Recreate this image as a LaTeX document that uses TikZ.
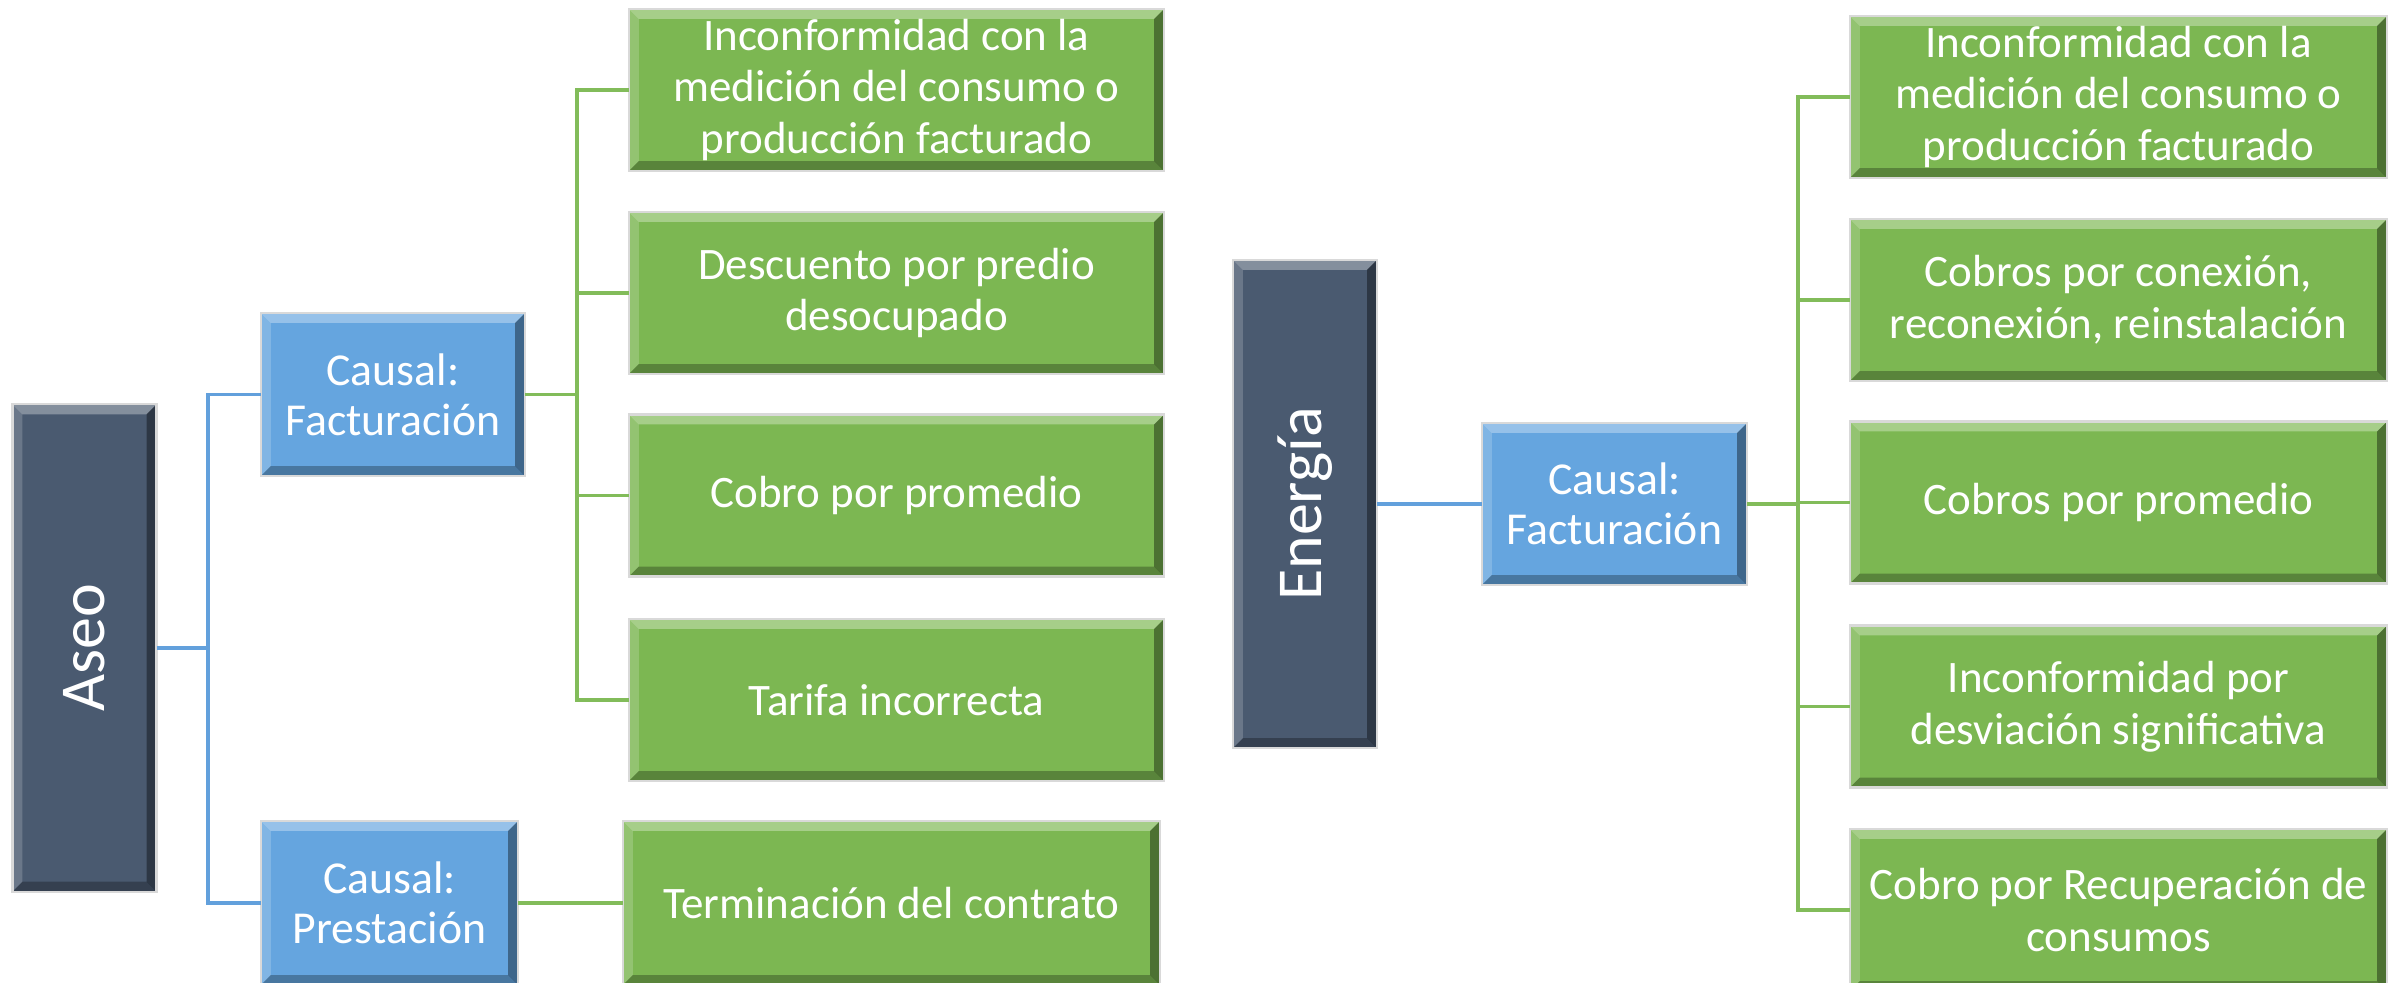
\documentclass[tikz,border=0pt]{standalone}
\usepackage{fontspec}
\setmainfont{Carlito}
\usepackage{graphicx}
\usetikzlibrary{calc}
\definecolor{slate}{HTML}{4A5A70}
\definecolor{cblue}{HTML}{65A5DF}
\definecolor{cgreen}{HTML}{7CB752}
\definecolor{lblue}{HTML}{62A0DC}
\definecolor{lgreen}{HTML}{82BC5A}
\newcommand{\bevelfill}{%
  \path (path picture bounding box.north west) coordinate (pNW)
        (path picture bounding box.north east) coordinate (pNE)
        (path picture bounding box.south west) coordinate (pSW)
        (path picture bounding box.south east) coordinate (pSE);
  \fill[white,opacity=.32] (pNW) -- (pNE) -- ($(pNE)+(-10,10)$) -- ($(pNW)+(10,10)$) -- cycle;
  \fill[white,opacity=.18] (pNW) -- ($(pNW)+(10,10)$) -- ($(pSW)+(10,-10)$) -- (pSW) -- cycle;
  \fill[black,opacity=.38] (pNE) -- (pSE) -- ($(pSE)+(-10,-10)$) -- ($(pNE)+(-10,10)$) -- cycle;
  \fill[black,opacity=.28] (pSW) -- (pSE) -- ($(pSE)+(-10,-10)$) -- ($(pSW)+(10,-10)$) -- cycle;
}
\tikzset{
  box/.style={rectangle, inner sep=0pt, outer sep=0pt, draw=black!15, line width=0.6pt,
    text=white, align=center, path picture={\bevelfill}},
  topbox/.style={box, fill=slate, minimum width=1.44cm, minimum height=4.87cm,
    font=\fontsize{18.2pt}{21pt}\selectfont},
  causebox/.style={box, fill=cblue, minimum height=1.63cm,
    font=\fontsize{13pt}{14.3pt}\selectfont},
  leafbox/.style={box, fill=cgreen, minimum height=1.62cm,
    font=\fontsize{12.8pt}{14.7pt}\selectfont},
  bline/.style={draw=lblue, line width=0.9pt},
  gline/.style={draw=lgreen, line width=0.9pt},
}
\begin{document}
\begin{tikzpicture}[x=0.01cm, y=-0.01cm]
\useasboundingbox[fill=white] (0,0) rectangle (2400,983);

% ---- Aseo ----
\node[topbox] (aseo) at (84.5,648) {\rotatebox{90}{Aseo}};
\node[causebox, minimum width=2.64cm] (afact) at (393,394.5) {Causal:\\Facturación};
\node[causebox, minimum width=2.57cm, minimum height=1.64cm] (aprest) at (389.5,903) {Causal:\\Prestación};

\node[leafbox, minimum width=5.35cm] (l1) at (896.5,90) {Inconformidad con la\\medición del consumo o\\producción facturado};
\node[leafbox, minimum width=5.35cm] (l2) at (896.5,293) {Descuento por predio\\desocupado};
\node[leafbox, minimum width=5.35cm] (l3) at (896.5,495.5) {Cobro por promedio};
\node[leafbox, minimum width=5.35cm] (l4) at (896.5,700) {Tarifa incorrecta};
\node[leafbox, minimum width=5.37cm, minimum height=1.64cm] (aterm) at (891.5,903) {Terminación del contrato};

\coordinate (ba) at (208,648);
\coordinate (ga) at (577,394.5);
\draw[bline] (aseo.east) -- (ba);
\draw[bline] (ba) |- (afact.west);
\draw[bline] (ba) |- (aprest.west);
\draw[gline] (afact.east) -- (ga);
\draw[gline] (ga) |- (l1.west);
\draw[gline] (ga) |- (l2.west);
\draw[gline] (ga) |- (l3.west);
\draw[gline] (ga) |- (l4.west);
\draw[gline] (aprest.east) -- (aterm.west);

% ---- Energia ----
\node[topbox, minimum height=4.88cm] (ener) at (1305,504) {\rotatebox{90}{Energía}};
\node[causebox, minimum width=2.65cm, minimum height=1.62cm] (efact) at (1614.5,504) {Causal:\\Facturación};

\node[leafbox, minimum width=5.37cm] (r1) at (2118.5,97) {Inconformidad con la\\medición del consumo o\\producción facturado};
\node[leafbox, minimum width=5.37cm] (r2) at (2118.5,300) {Cobros por conexión,\\reconexión, reinstalación};
\node[leafbox, minimum width=5.37cm] (r3) at (2118.5,502.5) {Cobros por promedio};
\node[leafbox, minimum width=5.37cm] (r4) at (2118.5,706.5) {Inconformidad por\\desviación significativa};
\node[leafbox, minimum width=5.37cm] (r5) at (2118.5,910) {Cobro por Recuperación de\\consumos};

\coordinate (ge) at (1798,504);
\draw[bline] (ener.east) -- (efact.west);
\draw[gline] (efact.east) -- (ge);
\draw[gline] (ge) |- (r1.west);
\draw[gline] (ge) |- (r2.west);
\draw[gline] (ge) |- (r3.west);
\draw[gline] (ge) |- (r4.west);
\draw[gline] (ge) |- (r5.west);
\end{tikzpicture}
\end{document}
